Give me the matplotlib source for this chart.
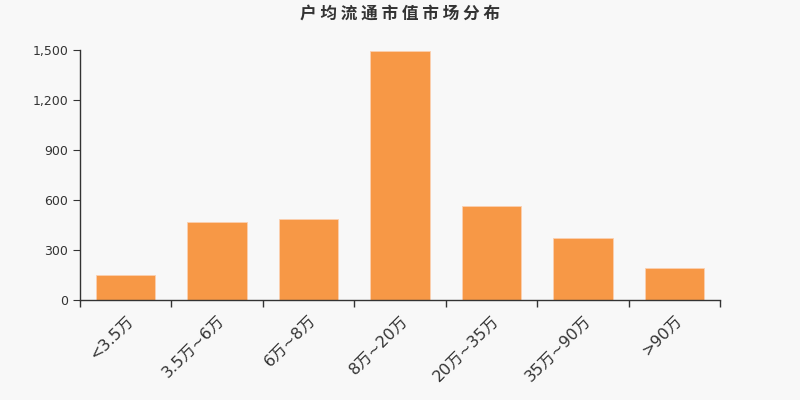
import numpy as np
import matplotlib.pyplot as plt
from matplotlib.ticker import FuncFormatter, FixedLocator

plt.rcParams['font.family'] = ['DejaVu Sans', 'Noto Sans CJK SC']

# data
categories = ['<3.5万', '3.5万~6万', '6万~8万', '8万~20万', '20万~35万', '35万~90万', '>90万']
values = [150, 468, 486, 1496, 566, 374, 190]
yticks = [0, 300, 600, 900, 1200, 1500]

bg = '#f8f8f8'
fig = plt.figure(figsize=(8, 4), dpi=100, facecolor=bg)
ax = fig.add_axes([0.1, 0.25, 0.8, 0.625], facecolor=bg)

x = np.arange(len(categories))
ax.bar(x, values, width=0.65, color='#f79846', edgecolor='#fbd0b0', linewidth=0.6)

ax.set_xlim(-0.5, len(categories) - 0.5)
ax.set_ylim(0, 1500)
ax.set_yticks(yticks)
ax.yaxis.set_major_formatter(FuncFormatter(lambda v, p: f'{int(v):,}'))

ax.set_xticks(x)
ax.set_xticklabels(categories, rotation=45, ha='right', rotation_mode='anchor',
                   fontsize=11.5, color='#333333')
ax.xaxis.set_minor_locator(FixedLocator(np.arange(len(categories) + 1) - 0.5))
ax.tick_params(axis='x', which='major', length=0, pad=9)
ax.tick_params(axis='x', which='minor', length=5, color='#333333', width=1)
ax.tick_params(axis='y', length=5, color='#333333', labelsize=9, labelcolor='#333333')

for s in ['top', 'right']:
    ax.spines[s].set_visible(False)
for s in ['left', 'bottom']:
    ax.spines[s].set_color('#333333')
    ax.spines[s].set_linewidth(1)

fig.text(0.5, 0.967, ' '.join('户均流通市值市场分布'), ha='center', va='center',
         fontsize=12, fontweight='bold', color='#333333',
         family=['Noto Sans CJK SC', 'DejaVu Sans'])

fig.savefig('out.png', dpi=100, facecolor=bg)
